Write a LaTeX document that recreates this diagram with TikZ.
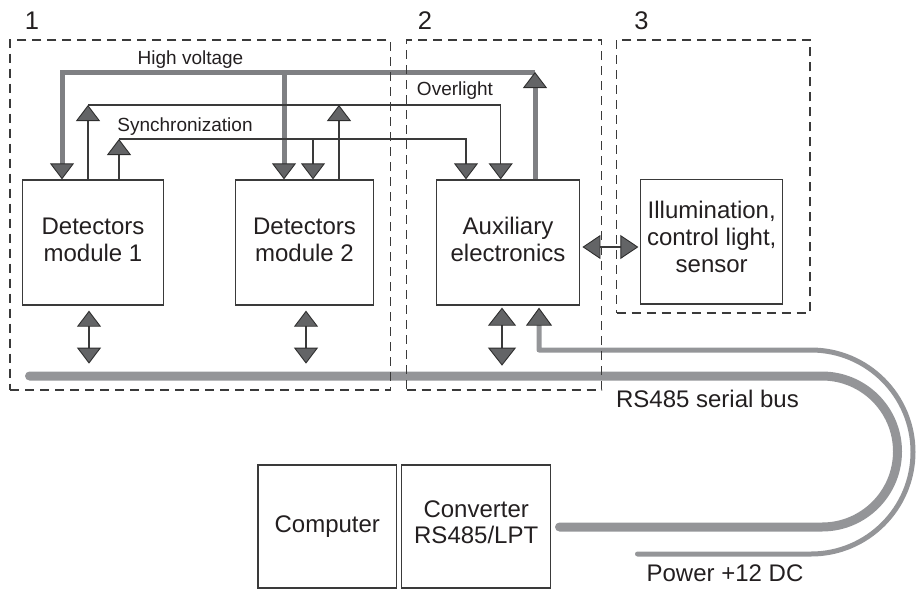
\documentclass[tikz,border=0pt]{standalone}
\usepackage{fontspec}
\setmainfont{Liberation Sans}
\usetikzlibrary{arrows.meta}
\definecolor{ink}{HTML}{231F20}
\definecolor{boxline}{HTML}{3A3A3A}
\definecolor{headfill}{HTML}{636466}
\definecolor{headdraw}{HTML}{2E2E2E}
\definecolor{hvgray}{HTML}{7F8083}
\definecolor{busgray}{HTML}{949598}
\tikzset{
  hd/.tip={Triangle[width=24pt,length=16pt,line width=0.9pt,color=headdraw,fill=headfill]},
  hdb/.tip={Triangle[width=28pt,length=18pt,line width=0.9pt,color=headdraw,fill=headfill]},
  hdp/.tip={Triangle[width=26pt,length=18pt,line width=0.9pt,color=headdraw,fill=headfill]},
  hdh/.tip={Triangle[width=24pt,length=18pt,line width=0.9pt,color=headdraw,fill=headfill]},
  blk/.style={draw=boxline, line width=1.3pt, rectangle, align=center,
    font=\fontsize{24}{26.7}\selectfont, text=ink, inner sep=0pt},
  grp/.style={draw=boxline, line width=1.2pt, dash pattern=on 9pt off 6pt, rectangle, inner sep=0pt},
  thinline/.style={draw=boxline, line width=1.3pt},
  hvline/.style={draw=hvgray, line width=5pt},
  busline/.style={draw=busgray, line width=9pt, line cap=round},
  pwrline/.style={draw=busgray, line width=5pt, line cap=round, line join=round},
  lbl/.style={font=\fontsize{19}{22}\selectfont, text=ink, anchor=base, inner sep=0pt},
  biglbl/.style={font=\fontsize{24}{26}\selectfont, text=ink, anchor=base, inner sep=0pt},
  numlbl/.style={font=\fontsize{25.5}{28}\selectfont, text=ink, anchor=base, inner sep=0pt}
}
\begin{document}
\begin{tikzpicture}[x=1pt,y=-1pt]
\useasboundingbox (0,0) rectangle (916,590);

% blocks
\node[blk, minimum width=140.6pt, minimum height=125pt, text depth=6pt] (dm1) at (93,242.5) {Detectors\\module 1};
\node[blk, minimum width=137.6pt, minimum height=125pt, text depth=6pt] (dm2) at (304.5,242.5) {Detectors\\module 2};
\node[blk, minimum width=142.6pt, minimum height=125pt, text depth=6pt] (aux) at (508,242.5) {Auxiliary\\electronics};
\node[blk, minimum width=142pt, minimum height=124.7pt, text depth=10pt] (ill) at (711.7,241.7) {Illumination,\\control light,\\sensor};
\node[blk, minimum width=138.7pt, minimum height=123pt] (comp) at (327.3,526.5) {Computer};
\node[blk, minimum width=149pt, minimum height=123pt, text depth=9pt] (conv) at (476.2,526.5) {Converter\\RS485/LPT};

% helper coordinates
\coordinate (hvA) at (535,72);
\coordinate (olY) at (0,105);
\coordinate (syY) at (0,139);
\coordinate (busL) at (29.5,376);
\coordinate (busR) at (559.5,527);
\coordinate (pwL) at (637.5,554);

% bus and power
\draw[busline] (busL) -- (822,376) arc[start angle=90,end angle=-90,radius=75.5pt] -- (busR);
\draw[pwrline,-hdp] (pwL) -- (811,554) arc[start angle=-90,end angle=90,radius=102pt]
  -| ([xshift=31pt,yshift=-2pt]aux.south);

% high voltage
\draw[hvline,-hd] (hvA) -| ([xshift=-31pt]dm1.north);
\draw[hvline,-hd] ([xshift=-20.5pt]dm2.north |- hvA) -- ([xshift=-20.5pt]dm2.north);
\draw[hvline,-hd] ([xshift=27pt]aux.north) -- (hvA);

% overlight
\draw[thinline,-hd] ([xshift=-5pt]dm1.north) -- ([xshift=-5pt]dm1.north |- olY);
\draw[thinline,-hd] ([xshift=-5pt]dm1.north |- olY) -| ([xshift=-7.3pt]aux.north);
\draw[thinline,-hd] ([xshift=34.5pt]dm2.north) -- ([xshift=34.5pt]dm2.north |- olY);

% synchronization
\draw[thinline,-hd] ([xshift=26pt]dm1.north) -- ([xshift=26pt]dm1.north |- syY);
\draw[thinline,-hd] ([xshift=26pt]dm1.north |- syY) -| ([xshift=-42pt]aux.north);
\draw[thinline,-hd] ([xshift=8.5pt]dm2.north |- syY) -- ([xshift=8.5pt]dm2.north);

% bus taps
\draw[thinline,hd-hd] ([xshift=-4pt,yshift=-5pt]dm1.south) -- ++(0,53);
\draw[thinline,hd-hd] ([xshift=1.5pt,yshift=-5pt]dm2.south) -- ++(0,53);
\draw[thinline,hdb-hdb] ([xshift=-6pt,yshift=-2pt]aux.south) -- ++(0,58);
\draw[thinline,hdh-hdh] ([xshift=2.5pt,yshift=-4.5pt]aux.east) -- ([xshift=-1.7pt,yshift=-5.3pt]ill.west);

% labels
\node[lbl] (lhv) at (190.5,64) {High voltage};
\node[lbl] (lsy) at (185,131.5) {Synchronization};
\node[lbl] (lol) at (455,95) {Overlight};
\node[biglbl] (lbus) at (707.5,407) {RS485 serial bus};
\node[biglbl] (lpw) at (725,581) {Power +12 DC};

% groups
\node[grp, minimum width=380.7pt, minimum height=350pt] (g1) at (200.35,215) {};
\node[grp, minimum width=195pt, minimum height=350pt] (g2) at (504.2,215) {};
\node[grp, minimum width=193.3pt, minimum height=273pt] (g3) at (713.35,176.5) {};
\node[numlbl] (n1) at (32,29.5) {1};
\node[numlbl] (n2) at (425,29.5) {2};
\node[numlbl] (n3) at (641.5,29.5) {3};
\end{tikzpicture}
\end{document}
